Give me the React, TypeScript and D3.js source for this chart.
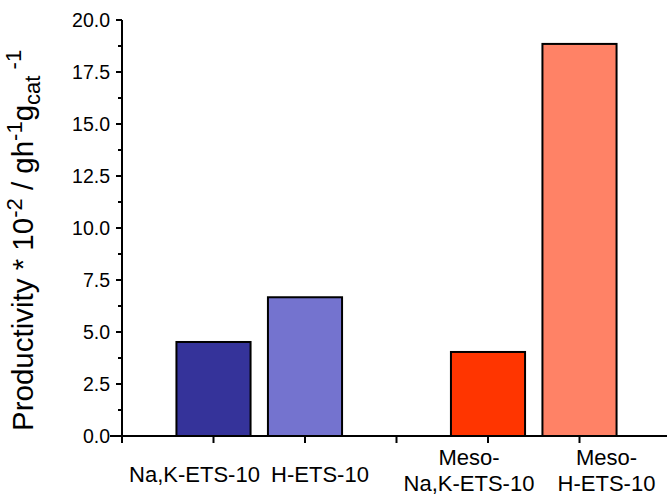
import React from "react";
import * as d3 from "d3";

const categories = ["Na,K-ETS-10", "H-ETS-10", "Meso-Na,K-ETS-10", "Meso-H-ETS-10"];
const values = [4.52, 6.67, 4.04, 18.85];
const labelLines = [["Na,K-ETS-10"], ["H-ETS-10"], ["Meso-", "Na,K-ETS-10"], ["Meso-", "H-ETS-10"]];
const colors = ["#35339a", "#7473cf", "#ff3500", "#ff8266"];
const yTicks = [0, 2.5, 5, 7.5, 10, 12.5, 15, 17.5, 20];
const yMinorTicks = [1.25, 3.75, 6.25, 8.75, 11.25, 13.75, 16.25, 18.75];

// layout constants
const W = 667, H = 495;
const AX = 122, Y0 = 436, Y1 = 20;
const labelDx = [-19, 15, -19, 27];
const FONT = "Liberation Sans, Arial, Helvetica, sans-serif";

export default function App() {
  const slotDomain = ["origin", categories[0], categories[1], "gap", categories[2], categories[3]];
  const x = d3.scalePoint<string>().domain(slotDomain).range([AX, AX + 91.5 * 5]);
  const step = x.step();
  const bw = step * 0.81;
  const y = d3.scaleLinear().domain([0, 20]).range([Y0, Y1]);
  const xTickSlots = slotDomain.slice(1);

  return (
    <svg width={W} height={H} style={{ position: "absolute", left: 0, top: 0, background: "#fff" }}
      fontFamily={FONT}>
      {/* bars */}
      {categories.map((c, i) => (
        <rect key={c} x={(x(c) as number) - bw / 2} y={y(values[i])} width={bw}
          height={y(0) - y(values[i])} fill={colors[i]} stroke="#000" strokeWidth={2} />
      ))}
      {/* y axis */}
      <line x1={AX} x2={AX} y1={y(20)} y2={Y0 + 7} stroke="#000" strokeWidth={2} />
      {yTicks.map((t) => (
        <g key={t}>
          <line x1={AX - 6} x2={AX} y1={y(t)} y2={y(t)} stroke="#000" strokeWidth={2} />
          <text x={AX - 12} y={y(t)} dy="0.36em" textAnchor="end" fontSize={19.5}>{t.toFixed(1)}</text>
        </g>
      ))}
      {yMinorTicks.map((t) => (
        <line key={t} x1={AX - 4} x2={AX} y1={y(t)} y2={y(t)} stroke="#000" strokeWidth={2} />
      ))}
      {/* x axis */}
      <line x1={AX - 12} x2={W} y1={Y0} y2={Y0} stroke="#000" strokeWidth={2} />
      {xTickSlots.map((s) => (
        <line key={s} x1={x(s) as number} x2={x(s) as number} y1={Y0} y2={Y0 + 7} stroke="#000" strokeWidth={2} />
      ))}
      {/* x labels */}
      {categories.map((c, i) => {
        const lines = labelLines[i];
        const cx = (x(c) as number) + labelDx[i];
        return lines.map((l, j) => (
          <text key={c + j} x={cx} y={lines.length === 1 ? 482 : 465 + j * 26}
            textAnchor="middle" fontSize={22}>{l}</text>
        ));
      })}
      {/* y title */}
      <text transform={`translate(33,431) rotate(-90)`} textAnchor="start" fontSize={29.5}>
        <tspan>Productivity * 10</tspan>
        <tspan fontSize={22} dy={-11}>-2</tspan>
        <tspan dy={11}> / gh</tspan>
        <tspan fontSize={22} dy={-11}>-1</tspan>
        <tspan dy={11}>g</tspan>
        <tspan fontSize={22} dy={7}>cat</tspan>
        <tspan fontSize={22} dy={-19}> -1</tspan>
      </text>
    </svg>
  );
}
